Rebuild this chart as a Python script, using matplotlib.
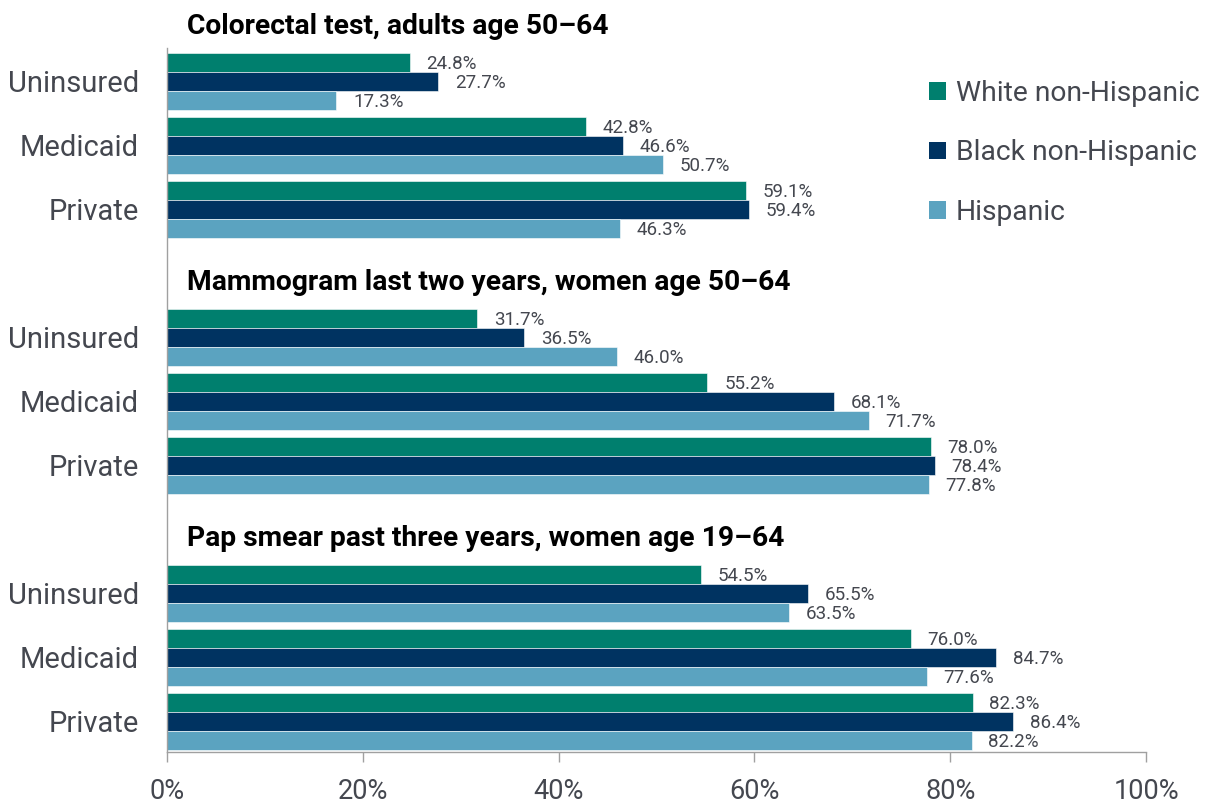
import numpy as np
import matplotlib as mpl
import matplotlib.pyplot as plt
from matplotlib.patches import Patch

mpl.rc('font', family='Roboto')

titles = ['Colorectal test, adults age 50\u201364',
          'Mammogram last two years, women age 50\u201364',
          'Pap smear past three years, women age 19\u201364']
coverage = ['Uninsured', 'Medicaid', 'Private']
groups = ['White non-Hispanic', 'Black non-Hispanic', 'Hispanic']
colors = ['#007f6e', '#003361', '#5ba3c0']

white = [[24.8, 42.8, 59.1], [31.7, 55.2, 78.0], [54.5, 76.0, 82.3]]
black = [[27.7, 46.6, 59.4], [36.5, 68.1, 78.4], [65.5, 84.7, 86.4]]
hispanic = [[17.3, 50.7, 46.3], [46.0, 71.7, 77.8], [63.5, 77.6, 82.2]]

text_color = '#44474f'
spine_color = '#a0a0a0'

fig = plt.figure(figsize=(12.06, 8.07), dpi=100)
ax = fig.add_axes([167 / 1206, 1 - 752 / 807, (1146 - 167) / 1206, (752 - 48) / 807])

h = 0.297
ypos = []
ylabels = []
for s in range(3):
    base = s * 4
    for c in range(3):
        y = base + c
        ypos.append(y)
        ylabels.append(coverage[c])
        for k, vals in enumerate([white, black, hispanic]):
            v = vals[s][c]
            yy = y + (k - 1) * h
            ax.barh(yy, v, height=h, color=colors[k], edgecolor='white', linewidth=0.4)
            ax.annotate('{:.1f}%'.format(v), (v, yy), xytext=(12, -1), textcoords='offset points',
                        va='center', ha='left', fontsize=13.5, color=text_color)
    ax.text(2, base - 1 + 0.14, titles[s], fontsize=20.3, fontweight='bold', color='black',
            va='center', ha='left', clip_on=False)

ax.set_xlim(0, 100)
ax.set_ylim(10.48, -0.52)
ax.set_yticks(ypos)
ax.set_yticklabels(ylabels)
ax.tick_params(axis='y', length=0, pad=20, labelsize=21, labelcolor=text_color)
ax.set_xticks([0, 20, 40, 60, 80, 100])
ax.set_xticklabels(['0%', '20%', '40%', '60%', '80%', '100%'])
ax.tick_params(axis='x', length=7.5, width=1, color=spine_color, pad=11,
               labelsize=19.5, labelcolor=text_color)

for side in ['top', 'right']:
    ax.spines[side].set_visible(False)
for side in ['left', 'bottom']:
    ax.spines[side].set_color(spine_color)
    ax.spines[side].set_linewidth(1)

handles = [Patch(facecolor=c, edgecolor='none') for c in colors]
leg = fig.legend(handles, groups, loc='upper left', bbox_to_anchor=(929 / 1206, 1 - 80 / 807),
                 frameon=False, fontsize=20.3, handlelength=0.6, handleheight=0.6,
                 handletextpad=0.35, labelspacing=1.15, borderaxespad=0, borderpad=0)
for t in leg.get_texts():
    t.set_color(text_color)

plt.savefig('out.png', dpi=100)
plt.close()
